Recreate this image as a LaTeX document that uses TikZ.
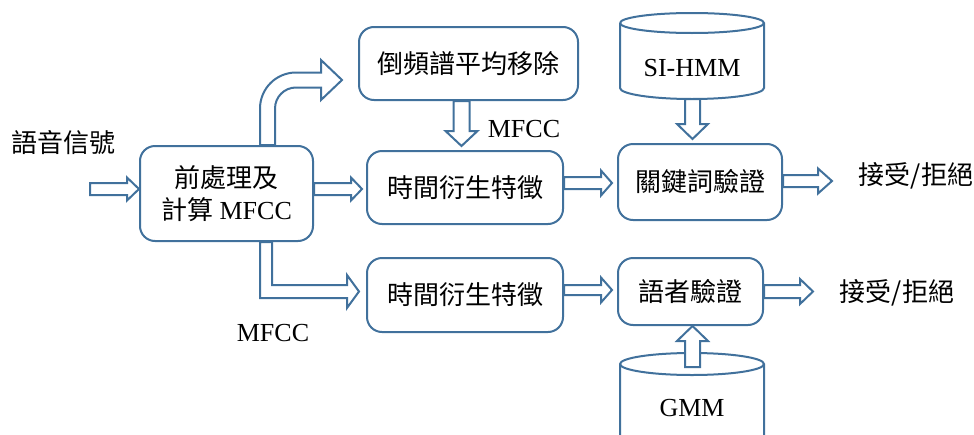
\documentclass[tikz,border=0pt]{standalone}
\usepackage{fontspec}
\setmainfont{Liberation Serif}
\newfontfamily\cjk{Noto Sans CJK TC}
\usetikzlibrary{calc}
\definecolor{ln}{HTML}{41719C}
\newcommand\bigf{\fontsize{26}{32}\selectfont}
% horizontal block arrow: start, tip, shaft half, head half, head length
\newcommand\harr[5]{\draw[barrow] let \p1=(#1), \p2=(#2) in (\x1,\y1+#3) -- (\x2-#5,\y1+#3) -- (\x2-#5,\y1+#4) -- (\x2,\y1) -- (\x2-#5,\y1-#4) -- (\x2-#5,\y1-#3) -- (\x1,\y1-#3) -- cycle;}
% downward block arrow
\newcommand\darr[5]{\draw[barrow] let \p1=(#1), \p2=(#2) in (\x1-#3,\y1) -- (\x1-#3,\y2+#5) -- (\x1-#4,\y2+#5) -- (\x1,\y2) -- (\x1+#4,\y2+#5) -- (\x1+#3,\y2+#5) -- (\x1+#3,\y1) -- cycle;}
% upward block arrow
\newcommand\uarr[5]{\draw[barrow] let \p1=(#1), \p2=(#2) in (\x1-#3,\y1) -- (\x1-#3,\y2-#5) -- (\x1-#4,\y2-#5) -- (\x1,\y2) -- (\x1+#4,\y2-#5) -- (\x1+#3,\y2-#5) -- (\x1+#3,\y1) -- cycle;}
\begin{document}
\begin{tikzpicture}[x=1pt,y=-1pt,
  box/.style={draw=ln,line width=2pt,rounded corners=15pt,fill=white,inner sep=0pt,align=center,font=\bigf},
  barrow/.style={draw=ln,line width=2pt,fill=white,line join=miter},
  cyl/.style={draw=ln,line width=2pt,fill=white},
  lbl/.style={inner sep=0pt,font=\bigf,align=center}]
\useasboundingbox (0,0) rectangle (974,434);
\clip (0,0) rectangle (974,434);
% cylinders
\draw[cyl] (620,23) -- (620,88) arc[start angle=180,end angle=360,x radius=72pt,y radius=11pt] -- (764,23) arc[start angle=0,end angle=180,x radius=72pt,y radius=10pt];
\draw[cyl] (764,23) arc[start angle=0,end angle=-180,x radius=72pt,y radius=10pt];
\draw[cyl] (620,440) -- (620,364) arc[start angle=180,end angle=0,x radius=72pt,y radius=11pt] -- (764,440);
\draw[cyl] (764,364) arc[start angle=0,end angle=-180,x radius=72pt,y radius=11pt];
\node[lbl] (sih) at (692,68) {SI-HMM};
\node[lbl] (gmm) at (692,408) {GMM};
% boxes
\node[box,minimum width=173pt,minimum height=95pt] (pre) at (226.5,193.5) {{\cjk 前處理及}\\{\cjk 計算} MFCC};
\node[box,minimum width=219pt,minimum height=73pt] (cep) at (468.5,63.5) {\cjk 倒頻譜平均移除};
\node[box,minimum width=196pt,minimum height=73pt] (td1) at (465,187.5) {\cjk 時間衍生特徵};
\node[box,minimum width=196pt,minimum height=74pt] (td2) at (465,295) {\cjk 時間衍生特徵};
\node[box,minimum width=164pt,minimum height=76pt] (kw) at (700,182) {\cjk 關鍵詞驗證};
\node[box,minimum width=145pt,minimum height=67pt] (sv) at (690.5,291.5) {\cjk 語者驗證};
% coordinates
\coordinate (inL) at (90,189);
\coordinate (o1) at (832,181);
\coordinate (o2) at (813,291.5);
\coordinate (sib) at (692.5,99);
\coordinate (gmt) at (692.5,367);
% arrows
\harr{inL}{pre.west}{6pt}{11.5pt}{12pt}
\harr{$(pre.east)+(0,-4.5)$}{$(td1.west)+(-4,0)$}{6pt}{11.5pt}{11pt}
\harr{$(td1.east)+(0,-4.5)$}{$(kw.west)+(-5,0)$}{6pt}{12.5pt}{11pt}
\harr{$(td2.east)+(0,-5)$}{$(sv.west)+(-5,0)$}{5pt}{12.5pt}{11pt}
\harr{$(kw.east)+(0,-1)$}{o1}{6pt}{12.5pt}{14pt}
\harr{sv.east}{o2}{6.5pt}{12.5pt}{13pt}
\darr{$(cep.south)+(-7,0)$}{$(td1.north)+(0,-4)$}{8pt}{16pt}{15pt}
\darr{sib}{$(kw.north)+(0,-4)$}{7.5pt}{15.5pt}{15pt}
\uarr{gmt}{sv.south}{7.5pt}{15.5pt}{15pt}
% curved arrow up to cepstral mean removal
\draw[barrow] let \p1=($(pre.north)+(41,0)$), \p2=($(cep.west)+(-16,16.5)$) in
  (\x1-7.5pt,\y1) -- (\x1-7.5pt,\y2+7.5pt-36pt) arc[start angle=180,end angle=90,radius=36pt]
  -- (\x2-21pt,\y2+7.5pt) -- (\x2-21pt,\y2+20pt) -- (\x2,\y2) -- (\x2-21pt,\y2-20pt) -- (\x2-21pt,\y2-7.5pt)
  -- (\x1+28.5pt,\y2-7.5pt) arc[start angle=90,end angle=180,radius=21pt] -- (\x1+7.5pt,\y1) -- cycle;
% L-shaped arrow down then right
\draw[barrow] let \p1=($(pre.south)+(39.5,0)$), \p2=($(td2.west)+(-7,-3.5)$) in
  (\x1-6pt,\y1) -- (\x1-6pt,\y2-6.5pt) -- (\x2-12pt,\y2-6.5pt) -- (\x2-12pt,\y2-16.5pt) -- (\x2,\y2)
  -- (\x2-12pt,\y2+16.5pt) -- (\x2-12pt,\y2+6.5pt) -- (\x1+6pt,\y2+6.5pt) -- (\x1+6pt,\y1) -- cycle;
% labels
\node[lbl] (sig) at (63,143) {\cjk 語音信號};
\node[lbl] (m1) at (524,129) {MFCC};
\node[lbl] (m2) at (273,333) {MFCC};
\node[lbl] (r1) at (916,176) {\cjk 接受/拒絕};
\node[lbl] (r2) at (897,293) {\cjk 接受/拒絕};
\end{tikzpicture}
\end{document}
